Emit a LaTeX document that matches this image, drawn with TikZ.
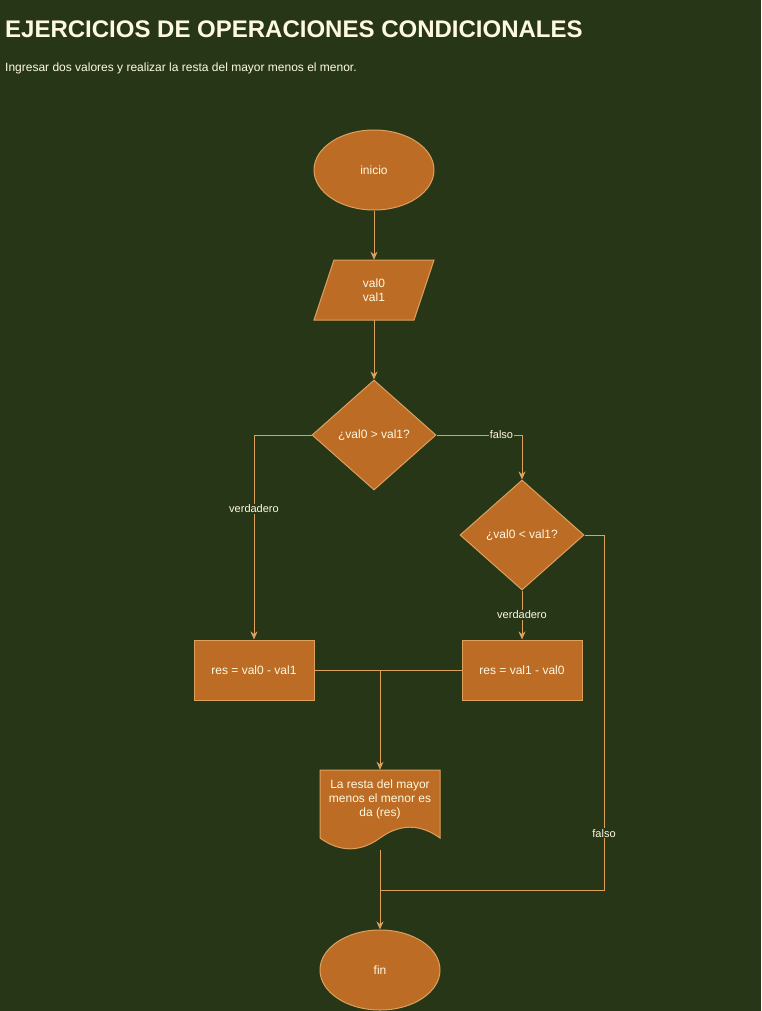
\documentclass[tikz,border=0pt]{standalone}
\usepackage{fontspec}
\setmainfont{Liberation Sans}
\usetikzlibrary{shapes.geometric,arrows.meta,calc}

\definecolor{bgcol}{HTML}{283618}
\definecolor{fillcol}{HTML}{BC6C25}
\definecolor{linecol}{HTML}{DDA15E}
\definecolor{txtcol}{HTML}{FEFAE0}

\tikzset{
  shapebox/.style={fill=fillcol, draw=linecol, line width=1pt},
  nodetext/.style={text=txtcol, font=\fontsize{12}{14}\selectfont, align=center, inner sep=0pt},
  terminal/.style={shapebox, nodetext, ellipse, minimum width=120pt, minimum height=80pt},
  decision/.style={shapebox, nodetext, diamond, minimum width=124pt, minimum height=110pt},
  process/.style={shapebox, nodetext, rectangle, minimum width=120pt, minimum height=60pt},
  plain/.style={nodetext, rectangle},
  wire/.style={draw=linecol, line width=1pt},
  flow/.style={wire, -{Stealth[length=8pt, width=7pt, inset=2.5pt]}},
  lbl/.style={text=txtcol, font=\fontsize{11}{13}\selectfont, fill=bgcol, inner sep=1pt},
}

\begin{document}
\begin{tikzpicture}[x=1pt, y=-1pt]
  % canvas
  \fill[bgcol] (0,0) rectangle (761,1011);
  \useasboundingbox (0,0) rectangle (761,1011);

  % heading
  \node[anchor=base west, text=txtcol, inner sep=0pt,
        font=\fontsize{24}{28}\selectfont\bfseries] (titulo) at (5,38)
        {EJERCICIOS DE OPERACIONES CONDICIONALES};
  \node[anchor=base west, text=txtcol, inner sep=0pt,
        font=\fontsize{12}{14}\selectfont] (enunciado) at (5,71.5)
        {Ingresar dos valores y realizar la resta del mayor menos el menor.};

  % input parallelogram outline
  \path[shapebox] (334,260) -- (434,260) -- (414,320) -- (314,320) -- cycle;
  % output document outline
  \path[shapebox] (320,770) -- (440,770) -- (440,838)
      .. controls (420,823.6) and (400,823.6) .. (380,838)
      .. controls (360,852.4) and (340,852.4) .. (320,838) -- cycle;

  % nodes
  \node[terminal] (inicio) at (374,170) {inicio};
  \node[plain, minimum width=120pt, minimum height=60pt] (entrada) at (374,290) {val0\\val1};
  \node[decision] (d1) at (374,435) {¿val0 > val1?};
  \node[decision] (d2) at (522,535) {¿val0 < val1?};
  \node[process] (r1) at (254,670) {res = val0 - val1};
  \node[process] (r2) at (522,670) {res = val1 - val0};
  \node[plain, minimum width=120pt, minimum height=80pt] (doc) at (380,810) {};
  \node[plain] (doctxt) at (380,799) {La resta del mayor\\menos el menor es\\da (res)};
  \node[terminal] (fin) at (380,970) {fin};

  % junction points
  \coordinate (j1) at (380,670);
  \coordinate (c1) at (604,890);
  \coordinate (j2) at (380,890);

  % connectors
  \draw[flow] (inicio) -- (entrada);
  \draw[flow] (entrada) -- (d1);
  \draw[flow] (d1.west) -| node[lbl, pos=0.68] {verdadero} (r1.north);
  \draw[flow] (d1.east) -| node[lbl, pos=0.38] {falso} (d2.north);
  \draw[flow] (d2.south) -- node[lbl] {verdadero} (r2.north);
  \draw[wire] (r1.east) -- (r2.west);
  \draw[flow] (j1) -- (doc.north);
  \draw[flow] (doc.south) -- (fin.north);
  \draw[wire] (d2.east) -| node[lbl, pos=0.92] {falso} (c1) -- (j2);
\end{tikzpicture}
\end{document}
